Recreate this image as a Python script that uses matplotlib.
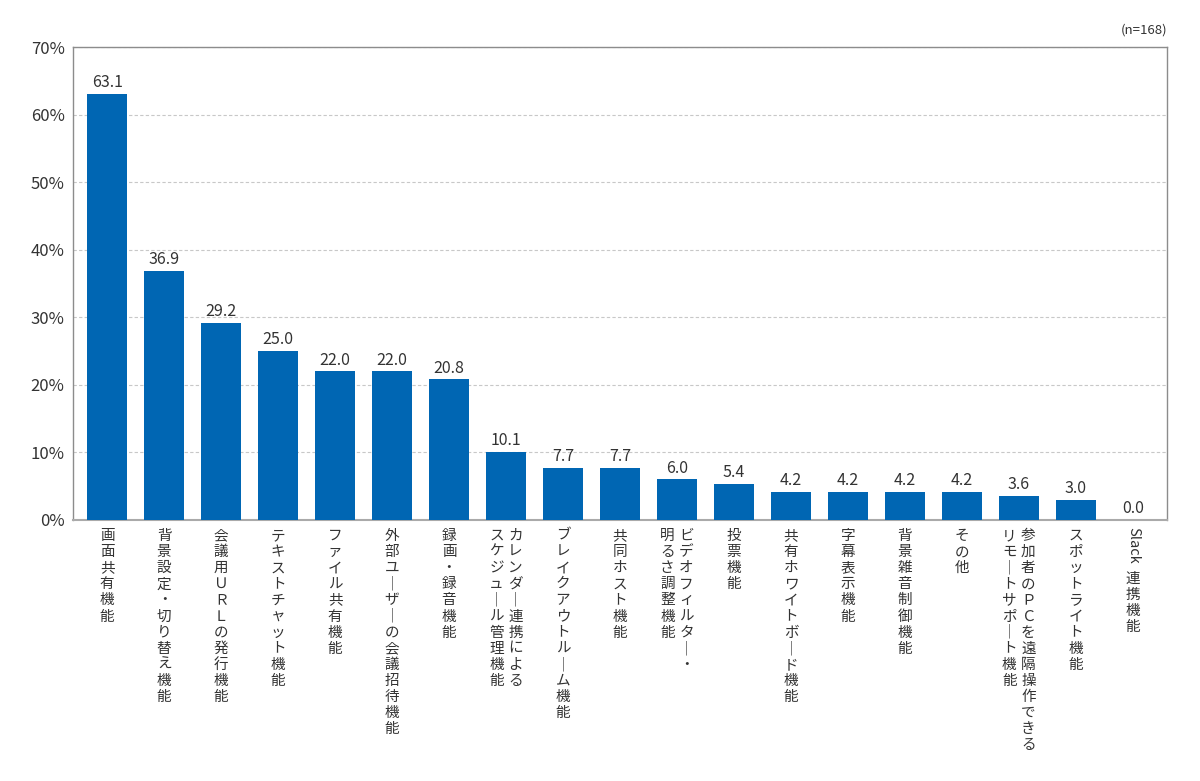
import matplotlib
matplotlib.use("Agg")
import matplotlib.pyplot as plt
from matplotlib.transforms import offset_copy

plt.rcParams['font.family'] = ['Noto Sans CJK JP', 'DejaVu Sans']

# data
categories = [
    "画面共有機能",
    "背景設定・切り替え機能",
    "会議用ＵＲＬの発行機能",
    "テキストチャット機能",
    "ファイル共有機能",
    "外部ユーザーの会議招待機能",
    "録画・録音機能",
    "カレンダー連携による\nスケジュール管理機能",
    "ブレイクアウトルーム機能",
    "共同ホスト機能",
    "ビデオフィルター・\n明るさ調整機能",
    "投票機能",
    "共有ホワイトボード機能",
    "字幕表示機能",
    "背景雑音制御機能",
    "その他",
    "参加者のＰＣを遠隔操作できる\nリモートサポート機能",
    "スポットライト機能",
    "Slack 連携機能",
]
values = [63.1, 36.9, 29.2, 25.0, 22.0, 22.0, 20.8, 10.1, 7.7, 7.7,
          6.0, 5.4, 4.2, 4.2, 4.2, 4.2, 3.6, 3.0, 0.0]
yticks = [0, 10, 20, 30, 40, 50, 60, 70]

bar_color = "#0066b3"
axis_gray = "#8c8c8c"
text_color = "#333333"

fig = plt.figure(figsize=(12, 7.81), dpi=100)
ax = fig.add_axes([0.0608, 0.3342, 0.9117, 0.6056])

x = list(range(len(categories)))
ax.bar(x, values, width=0.7, color=bar_color, zorder=3)

for xi, v in zip(x, values):
    ax.annotate(f"{v:.1f}", (xi, v), xytext=(0, 2), textcoords="offset points",
                ha="center", va="bottom", fontsize=11.5, color=text_color)

ax.set_xlim(-0.6, len(categories) - 0.4)
ax.set_ylim(0, 70)
ax.set_yticks(yticks)
ax.set_yticklabels([f"{t}%" for t in yticks], fontsize=12, color=text_color)
ax.tick_params(axis="y", length=0, pad=6)
ax.set_xticks([])
ax.grid(axis="y", linestyle=(0, (3, 2)), color="#c8c8c8", linewidth=0.8, zorder=0)
for s in ax.spines.values():
    s.set_color(axis_gray)
    s.set_linewidth(1.0)
ax.spines["bottom"].set_color("#aaaaaa")
ax.spines["bottom"].set_linewidth(1.5)

# vertical (tategaki) category labels, one character per cell
trans = ax.get_xaxis_transform()
fs = 10.5
pitch = 11.6      # points between character centres
first = 11.5      # points from axis to first character centre
col_gap = 13.7    # points between columns


def put_column(xi, text, dx, start):
    for i, c in enumerate(text):
        t = offset_copy(trans, fig=fig, x=dx, y=-(start + i * pitch), units="points")
        # long vowel mark stands upright in vertical writing
        ch = "｜" if c == "ー" else c
        ax.text(xi, 0, ch, ha="center", va="center",
                fontsize=fs, color=text_color, transform=t)


for xi, label in zip(x, categories):
    if label.startswith("Slack"):
        word, rest = label.split(" ")
        t = offset_copy(trans, fig=fig, x=0, y=-5, units="points")
        ax.text(xi, 0, word, rotation=270, ha="center", va="top",
                fontsize=fs, color=text_color, transform=t)
        put_column(xi, rest, 0, 42.5)
        continue
    cols = label.split("\n")
    n = len(cols)
    for ci, col in enumerate(cols):
        # first column is on the right (vertical writing)
        dx = (n - 1) / 2 * col_gap - ci * col_gap
        put_column(xi, col, dx, first)

fig.text(0.9725, 0.962, "(n=168)", ha="right", va="center", fontsize=9.5,
         color=text_color)

fig.savefig("out.png", dpi=100)
